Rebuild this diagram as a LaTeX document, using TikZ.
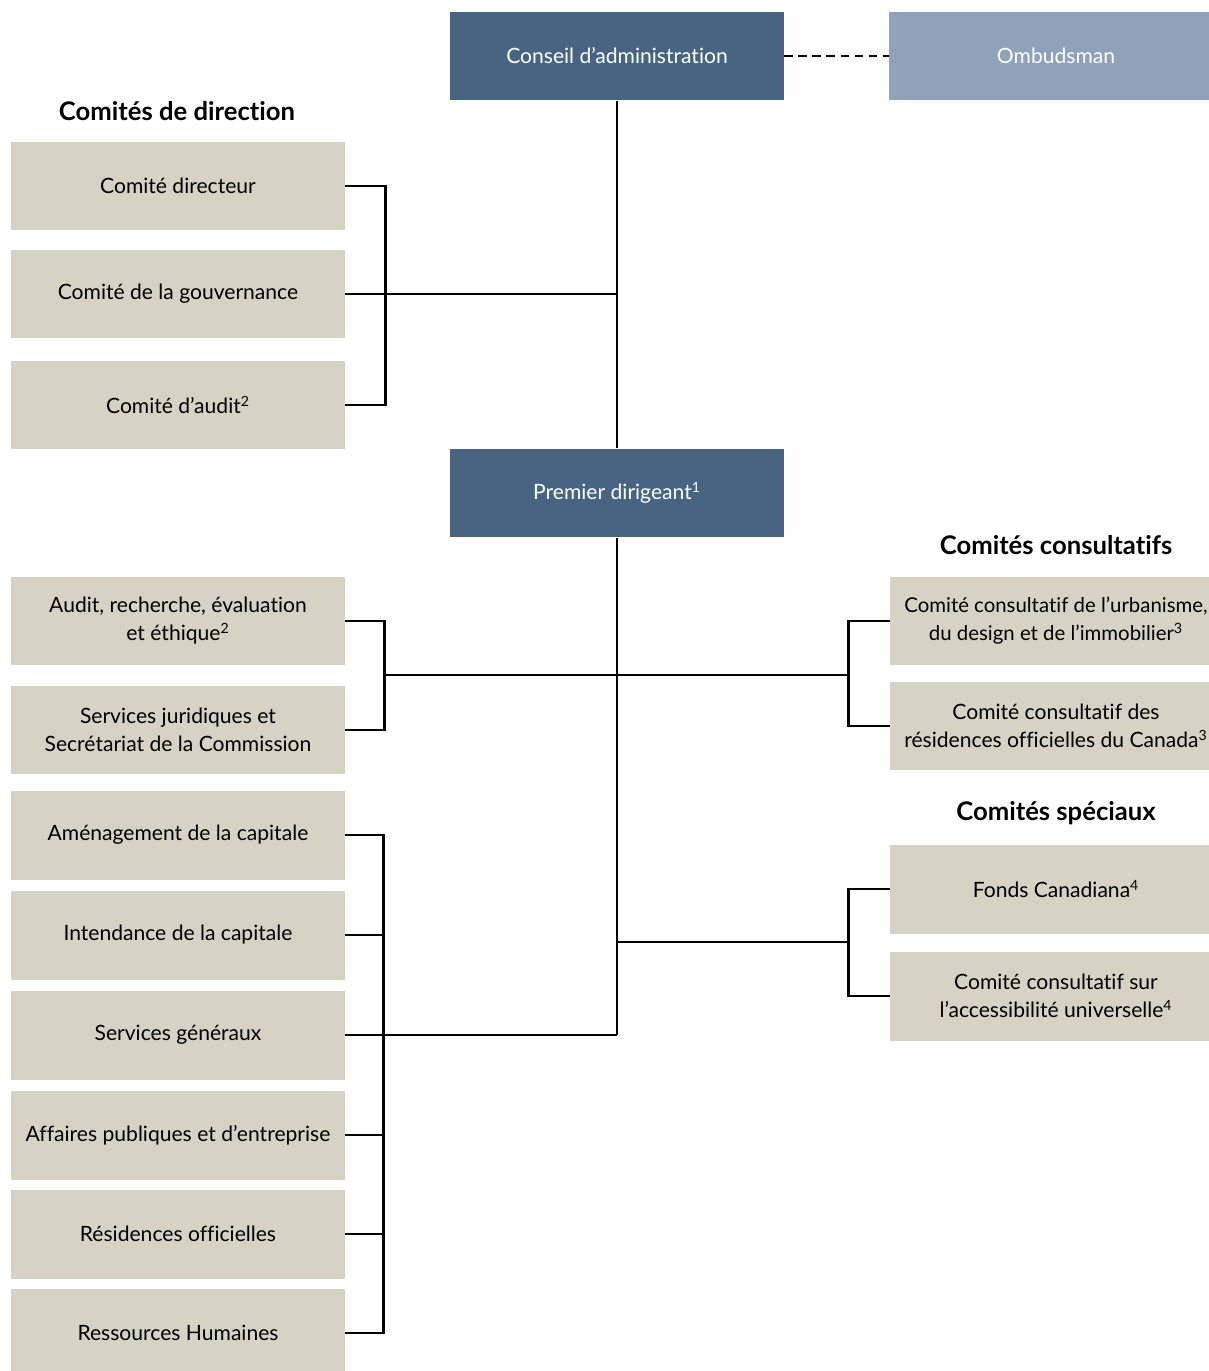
\documentclass[tikz,border=0pt]{standalone}
\usepackage{fontspec}
\setmainfont{Lato}[Ligatures=NoCommon]
\usepackage{xcolor}
\usetikzlibrary{positioning}

\definecolor{boardblue}{HTML}{476582}
\definecolor{ombudblue}{HTML}{8FA2B9}
\definecolor{unitgrey}{HTML}{D6D2C4}

\tikzset{
  box/.style={rectangle, inner sep=0pt, align=center, minimum height=1.78cm,
    font=\fontsize{12}{15.9}\selectfont},
  lbox/.style={box, fill=unitgrey, minimum width=6.68cm},
  rbox/.style={box, fill=unitgrey, minimum width=6.64cm},
  topbox/.style={box, fill=boardblue, text=white, minimum width=6.68cm},
  ombudbox/.style={box, fill=ombudblue, text=white, minimum width=6.68cm},
  heading/.style={inner sep=0pt, font=\bfseries\fontsize{14.6}{17}\selectfont},
  link/.style={draw=black, line width=1.5pt}
}

\begin{document}
\begin{tikzpicture}[x=0.02cm, y=-0.02cm]
        \useasboundingbox (0,0) rectangle (1208,1371);
        % board and ceo
        \node[topbox] (board) at (617,56) {Conseil d’administration};
        \node[ombudbox] (ombud) at (1056,56) {Ombudsman};
        \node[topbox] (ceo) at (617,493) {Premier dirigeant\textsuperscript{1}};
        % comites de direction
        \node[heading] (hdir) at (177,111) {Comités de direction};
        \node[lbox] (cdir) at (178,186) {Comité directeur};
        \node[lbox] (cgouv) at (178,294) {Comité de la gouvernance};
        \node[lbox] (caudit) at (178,405) {Comité d’audit\textsuperscript{2}};
        % units
        \node[lbox] (arec) at (178,621) {Audit, recherche, évaluation\\et éthique\textsuperscript{2}};
        \node[lbox] (sjur) at (178,730) {Services juridiques et\\Secrétariat de la Commission};
        \node[lbox] (amen) at (178,835) {Aménagement de la capitale};
        \node[lbox] (intend) at (178,935) {Intendance de la capitale};
        \node[lbox] (sgen) at (178,1035) {Services généraux};
        \node[lbox] (aff) at (178,1135) {Affaires publiques et d’entreprise};
        \node[lbox] (resid) at (178,1234) {Résidences officielles};
        \node[lbox] (rh) at (178,1333) {Ressources Humaines};
        % comites consultatifs / speciaux
        \node[heading] (hcons) at (1056,545) {Comités consultatifs};
        \node[rbox, font=\fontsize{11.6}{15.9}\selectfont] (ccurb) at (1056,621) {Comité consultatif de l’urbanisme,\\du design et de l’immobilier\textsuperscript{3}};
        \node[rbox] (ccres) at (1056,726) {Comité consultatif des\\résidences officielles du Canada\textsuperscript{3}};
        \node[heading] (hspec) at (1056,813) {Comités spéciaux};
        \node[rbox] (fonds) at (1056,889) {Fonds Canadiana\textsuperscript{4}};
        \node[rbox] (ccacc) at (1056,996) {Comité consultatif sur\\l’accessibilité universelle\textsuperscript{4}};

        \coordinate (lj1) at (384,675);
        \coordinate (rj1) at (849,675);
        \coordinate (rj2) at (849,942);

        \draw[link, dashed, dash pattern=on 5pt off 3pt] (board) -- (ombud);
        \draw[link] (board) -- (ceo);
        \draw[link] (cdir.east) -- ++(40,0) |- (caudit.east);
        \draw[link] (cgouv.east) -- (cgouv.east -| board);
        \draw[link] (arec.east) -- ++(39,0) |- (sjur.east);
        \draw[link] (ccurb.west) -- ++(-41,0) |- (ccres.west);
        \draw[link] (lj1) -- (rj1);
        \draw[link] (ceo) -- (ceo.south |- sgen);
        \draw[link] (amen.east) -- ++(38,0) |- (rh.east);
        \foreach \n in {intend,sgen,aff,resid}
          \draw[link] (\n.east) -- ++(38,0);
        \draw[link] (sgen.east) -- (ceo.south |- sgen);
        \draw[link] (fonds.west) -- ++(-41,0) |- (ccacc.west);
        \draw[link] (ceo.south |- rj2) -- (rj2);
      \end{tikzpicture}
\end{document}
